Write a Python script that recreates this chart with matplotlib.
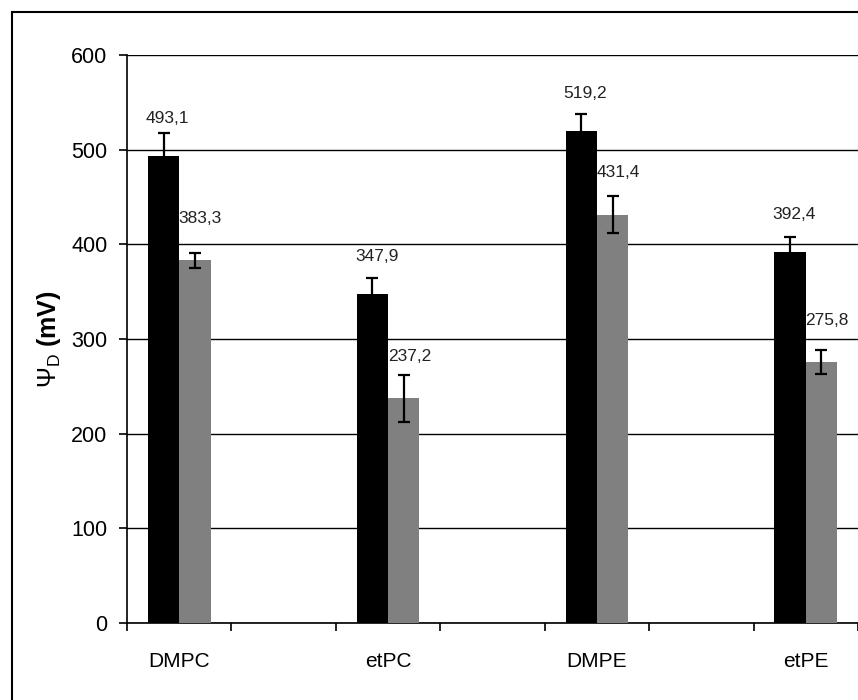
import matplotlib
matplotlib.use("Agg")
import matplotlib.pyplot as plt
from matplotlib.patches import Rectangle
import numpy as np

plt.rcParams['font.family'] = ['Liberation Sans', 'DejaVu Sans']
plt.rcParams['mathtext.fontset'] = 'custom'
plt.rcParams['mathtext.rm'] = 'Liberation Sans'
plt.rcParams['mathtext.bf'] = 'Liberation Sans:bold'

slots = ["DMPC", "", "etPC", "", "DMPE", "", "etPE"]
lipids = ["DMPC", "etPC", "DMPE", "etPE"]
black_vals = [493.1, 347.9, 519.2, 392.4]
black_err = [24, 17, 19, 15]
gray_vals = [383.3, 237.2, 431.4, 275.8]
gray_err = [8, 24.5, 19.5, 12.5]
black_labels = ["493,1", "347,9", "519,2", "392,4"]
gray_labels = ["383,3", "237,2", "431,4", "275,8"]

fig = plt.figure(figsize=(8.58, 7.0), dpi=100)
ax = fig.add_axes([127 / 858, 1 - 623 / 700, 1 - 127 / 858, (623 - 55) / 700])

# group positions = slots that carry a name
pos = np.array([slots.index(n) for n in lipids]) + 0.5
w = 0.3

ax.bar(pos - w / 2, black_vals, w, color='black', zorder=3)
ax.bar(pos + w / 2, gray_vals, w, color='#808080', zorder=3)
ax.errorbar(pos - w / 2, black_vals, yerr=black_err, fmt='none', ecolor='black',
            elinewidth=1.6, capsize=4.5, capthick=1.6, zorder=4)
ax.errorbar(pos + w / 2, gray_vals, yerr=gray_err, fmt='none', ecolor='black',
            elinewidth=1.6, capsize=4.5, capthick=1.6, zorder=4)

for x, v, t in zip(pos - w / 2, black_vals, black_labels):
    ax.annotate(t, (x, v), xytext=(3, 27), textcoords='offset points',
                ha='center', va='center', fontsize=12.5, color='#222222')
for x, v, t in zip(pos + w / 2, gray_vals, gray_labels):
    ax.annotate(t, (x, v), xytext=(4, 30), textcoords='offset points',
                ha='center', va='center', fontsize=12.5, color='#222222')

ax.set_xlim(0, len(slots))
ax.set_ylim(0, 600)
ax.set_yticks(range(0, 601, 100))
ax.yaxis.grid(True, color='black', linewidth=1.0, zorder=0)
ax.set_axisbelow(True)

ax.set_xticks(range(0, len(slots) + 1))
ax.set_xticklabels([])
ax.set_xticks(np.arange(len(slots)) + 0.5, minor=True)
ax.set_xticklabels(slots, minor=True, fontsize=15)
ax.tick_params(axis='x', which='major', direction='out', length=6, width=1.2)
ax.tick_params(axis='x', which='minor', length=0, pad=21)
ax.tick_params(axis='y', direction='out', length=6, width=1.2, labelsize=15.5, pad=8)

for s in ['top', 'right']:
    ax.spines[s].set_visible(False)
for s in ['left', 'bottom']:
    ax.spines[s].set_linewidth(1.2)

ax.set_ylabel(r'$\Psi_{\mathrm{D}}$ (mV)', fontsize=18, fontweight='bold')
ax.yaxis.set_label_coords(-0.088, 0.5)

# outer frame around the chart
fig.patches.append(Rectangle((12 / 858, -0.1), 1.2, 1 - 12 / 700 + 0.1,
                             transform=fig.transFigure, fill=False,
                             edgecolor='black', linewidth=1.5))

fig.savefig('out.png', dpi=100)
